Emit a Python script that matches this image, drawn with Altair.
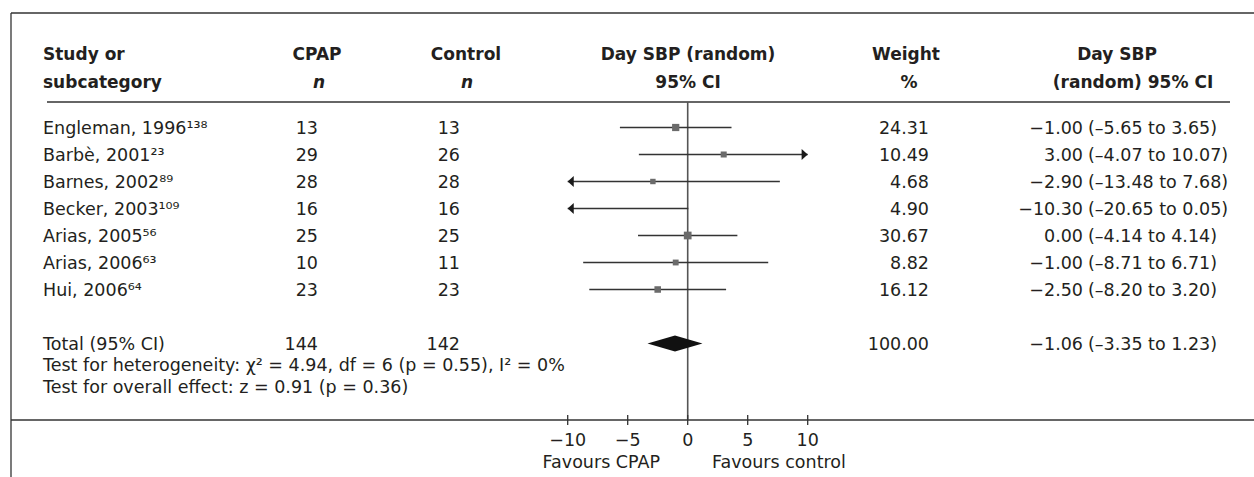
import altair as alt
import pandas as pd

# ---------------- data ----------------
studies = ["Engleman, 1996¹³⁸", "Barbè, 2001²³", "Barnes, 2002⁸⁹", "Becker, 2003¹⁰⁹",
           "Arias, 2005⁵⁶", "Arias, 2006⁶³", "Hui, 2006⁶⁴"]
cpap_n = [13, 29, 28, 16, 25, 10, 23]
control_n = [13, 26, 28, 16, 25, 11, 23]
weights = [24.31, 10.49, 4.68, 4.90, 30.67, 8.82, 16.12]
mean_diff = [-1.00, 3.00, -2.90, -10.30, 0.00, -1.00, -2.50]
ci_low = [-5.65, -4.07, -13.48, -20.65, -4.14, -8.71, -8.20]
ci_high = [3.65, 10.07, 7.68, 0.05, 4.14, 6.71, 3.20]

total_label = "Total (95% CI)"
total_cpap = 144
total_control = 142
total_weight = 100.00
total_md = -1.06
total_low = -3.35
total_high = 1.23

heterogeneity_text = "Test for heterogeneity: χ² = 4.94, df = 6 (p = 0.55), I² = 0%"
overall_text = "Test for overall effect: z = 0.91 (p = 0.36)"

axis_ticks = [-10, -5, 0, 5, 10]
x_domain = [-10, 10]

# ---------------- helpers ----------------
def lead(v):
    return f"{v:.2f}".replace("-", "\u2212")

def inner(v):
    return f"{v:.2f}".replace("-", "\u2013")

rows = []
for i, s in enumerate(studies):
    rows.append(dict(
        row=i, study=s, cpap=str(cpap_n[i]), control=str(control_n[i]),
        wtxt=f"{weights[i]:.2f}", est=lead(mean_diff[i]),
        ci=f"({inner(ci_low[i])} to {inner(ci_high[i])})",
        weight=weights[i], md=mean_diff[i],
        lo=max(ci_low[i], x_domain[0]), hi=min(ci_high[i], x_domain[1]),
        larrow=ci_low[i] < x_domain[0], rarrow=ci_high[i] > x_domain[1],
        inside=x_domain[0] <= mean_diff[i] <= x_domain[1], study_row=True))
rows.append(dict(
    row=8, study=total_label, cpap=str(total_cpap), control=str(total_control),
    wtxt=f"{total_weight:.2f}", est=lead(total_md),
    ci=f"({inner(total_low)} to {inner(total_high)})",
    weight=total_weight, md=total_md, lo=total_low, hi=total_high,
    larrow=False, rarrow=False, inside=True, study_row=False))
table = pd.DataFrame(rows)
studies_df = table[table.study_row]

half = 0.3
diamond = pd.DataFrame({
    "x": [total_low, total_md, total_high],
    "top": [8, 8 - half, 8],
    "bot": [8, 8 + half, 8],
})
ticks_df = pd.DataFrame({"t": axis_ticks,
                         "lab": [str(t).replace("-", "\u2212") for t in axis_ticks]})
one = pd.DataFrame({"k": [0]})

# ---------------- styles ----------------
FONT = "DejaVu Sans"
FS = 17.5
FSB = 17
TXT = "#231f20"
LINE = "#333333"

xsc = alt.Scale(domain=x_domain, range=[567.7, 807.7])
ysc = alt.Scale(domain=[0, 10], range=[127.5, 397.5])
Y = alt.Y("row:Q", scale=ysc, axis=None)

def hline(x1, x2, y):
    return alt.Chart(one).mark_rule(color=LINE, strokeWidth=1.3).encode(
        x=alt.value(x1), x2=alt.value(x2), y=alt.value(y))

def vline(x, y1, y2):
    return alt.Chart(one).mark_rule(color=LINE, strokeWidth=1.3).encode(
        x=alt.value(x), y=alt.value(y1), y2=alt.value(y2))

frame = [hline(11, 1254, 13), vline(11, 13, 477), hline(47, 1230, 102),
         hline(11, 1254, 420)]

zero = alt.Chart(one).mark_rule(color="#555555", strokeWidth=1.6).encode(
    x=alt.X(datum=0, type="quantitative", scale=xsc, axis=None),
    y=alt.value(102), y2=alt.value(420))

ci_lines = alt.Chart(studies_df).mark_rule(color=LINE, strokeWidth=1.3).encode(
    x=alt.X("lo:Q", scale=xsc, axis=None), x2="hi:Q", y=Y)

squares = alt.Chart(studies_df).transform_filter(alt.datum.inside).mark_square(
    color="#6b6b6b", opacity=1).encode(
    x=alt.X("md:Q", scale=xsc, axis=None), y=Y,
    size=alt.Size("weight:Q", scale=alt.Scale(domain=[0, 31], range=[24, 60]), legend=None))

larrows = alt.Chart(studies_df).transform_filter(alt.datum.larrow).mark_point(
    shape="M1.1,-1L0,0L1.1,1Z", filled=True, color="#1a1a1a", opacity=1, size=121).encode(
    x=alt.X("lo:Q", scale=xsc, axis=None), y=Y)

rarrows = alt.Chart(studies_df).transform_filter(alt.datum.rarrow).mark_point(
    shape="M-1.1,-1L0,0L-1.1,1Z", filled=True, color="#1a1a1a", opacity=1, size=121).encode(
    x=alt.X("hi:Q", scale=xsc, axis=None), y=Y)

dia = alt.Chart(diamond).mark_area(color="#111111", opacity=1).encode(
    x=alt.X("x:Q", scale=xsc, axis=None),
    y=alt.Y("top:Q", scale=ysc, axis=None), y2="bot:Q")

tick_marks = alt.Chart(ticks_df).mark_rule(color=LINE, strokeWidth=1.3).encode(
    x=alt.X("t:Q", scale=xsc, axis=None), y=alt.value(415), y2=alt.value(425))

tick_labels = alt.Chart(ticks_df).mark_text(
    font=FONT, fontSize=FS, color=TXT, baseline="alphabetic", align="center").encode(
    x=alt.X("t:Q", scale=xsc, axis=None), y=alt.value(446), text="lab:N")

def label(txt, x, y, align="left", bold=False, italic=False):
    return alt.Chart(one).mark_text(
        text=txt, font=FONT, fontSize=FSB if bold else FS, color=TXT,
        baseline="alphabetic", align=align,
        fontWeight="bold" if bold else "normal",
        fontStyle="italic" if italic else "normal").encode(
        x=alt.value(x), y=alt.value(y))

headers = [
    label("Study or", 43, 60, bold=True),
    label("subcategory", 43, 88, bold=True),
    label("CPAP", 317, 60, "center", bold=True),
    label("n", 319, 88, "center", bold=True, italic=True),
    label("Control", 466, 60, "center", bold=True),
    label("n", 467, 88, "center", bold=True, italic=True),
    label("Day SBP (random)", 688, 60, "center", bold=True),
    label("95% CI", 688, 88, "center", bold=True),
    label("Weight", 906, 60, "center", bold=True),
    label("%", 909, 88, "center", bold=True),
    label("Day SBP", 1117, 60, "center", bold=True),
    label("(random) 95% CI", 1133, 88, "center", bold=True),
    label(heterogeneity_text, 43, 371),
    label(overall_text, 43, 393),
    label("Favours CPAP", 660, 468, "right"),
    label("Favours control", 712, 468, "left"),
]

def col(field, x, align):
    return alt.Chart(table).mark_text(
        font=FONT, fontSize=FS, color=TXT, baseline="alphabetic", align=align, dy=6).encode(
        x=alt.value(x), y=Y, text=f"{field}:N")

columns = [col("study", 43, "left"), col("cpap", 318, "right"),
           col("control", 460, "right"), col("wtxt", 929, "right"),
           col("est", 1083, "right"), col("ci", 1088, "left")]

chart = alt.layer(
    *frame, zero, ci_lines, squares, larrows, rarrows, dia, tick_marks, tick_labels,
    *columns, *headers
).properties(
    width=1254, height=477, autosize=alt.AutoSizeParams(type="none"), padding=0,
    background="white"
).configure_view(stroke=None)

chart.save("out.html", embed_options={"renderer": "svg", "actions": False})
